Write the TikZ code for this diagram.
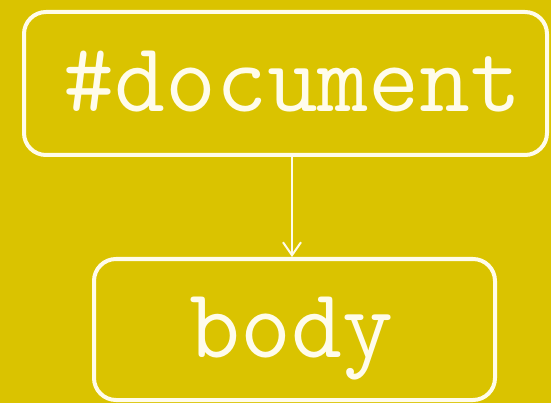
\documentclass[tikz,border=0pt]{standalone}
\usepackage{fontspec}
\usetikzlibrary{arrows.meta}
\definecolor{bgyellow}{RGB}{218,195,0}
\definecolor{cream}{RGB}{255,252,235}
\tikzset{
  box/.style={draw=cream, line width=4pt, rounded corners=22pt, inner sep=0pt,
    text=cream, font=\ttfamily\fontsize{99}{99}\selectfont, text depth=0pt},
  link/.style={draw=cream, line width=2pt, -{Straight Barb[length=13pt,width=18pt,line width=2pt]}}
}
\begin{document}
\begin{tikzpicture}[x=1pt,y=-1pt]
  \useasboundingbox (0,0) rectangle (551,403);
  \fill[bgyellow] (0,0) rectangle (551,403);
  \node[box, minimum width=523pt, minimum height=143pt, text height=57pt] (doc) at (285.5,83.5) {\hspace*{14pt}\#document};
  \node[box, minimum width=401pt, minimum height=141pt, text height=55pt] (body) at (294.5,329.5) {\hspace*{-6pt}body};
  \draw[link] (doc.south -| 292,0) -- (body.north -| 292,0);
\end{tikzpicture}
\end{document}
